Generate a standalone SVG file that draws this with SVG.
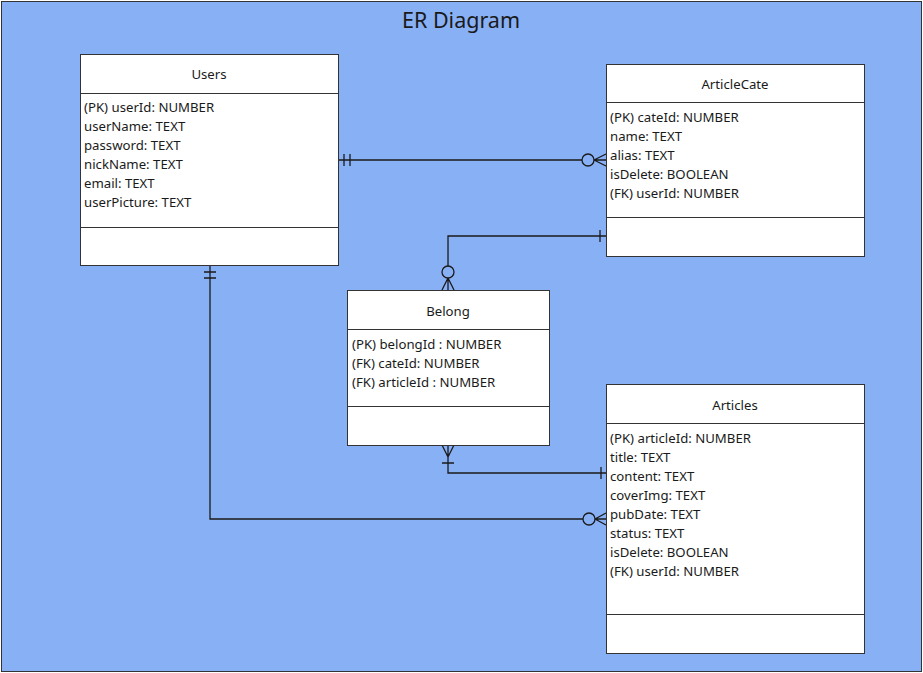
<svg xmlns="http://www.w3.org/2000/svg" width="923" height="673" viewBox="0 0 923 673">
<style>
.box{fill:#fff;stroke:#333;stroke-width:1}
.div{stroke:#333;stroke-width:1}
.t{font-family:"Noto Sans","Open Sans",sans-serif;font-size:13.2px;fill:#1a1a1a}
.h{text-anchor:middle}
.c{fill:none;stroke:#1a1a1a;stroke-width:1.3}
.ci{fill:none;stroke:#1a1a1a;stroke-width:1.3}
</style>
<rect x="1.5" y="1.5" width="920" height="670" fill="#88b0f5" stroke="#333" stroke-width="1"/>
<text x="461" y="28" font-family="'Noto Sans','Open Sans',sans-serif" font-size="21.5" fill="#1a1a1a" text-anchor="middle">ER Diagram</text>

<g id="connectors">
  <!-- Users - ArticleCate -->
  <path class="c" d="M338,160 H582 M344,154 V166 M350,154 V166 M594,160 L606,154 M594,160 L606,160 M594,160 L606,166"/>
  <circle class="ci" cx="588" cy="160" r="6"/>
  <!-- ArticleCate - Belong -->
  <path class="c" d="M606,236 H448 V266 M600,230 V242 M448,278 L442,290 M448,278 L448,290 M448,278 L454,290"/>
  <circle class="ci" cx="448" cy="272" r="6"/>
  <!-- Belong - Articles -->
  <path class="c" d="M448,445 V473 H606 M442,445 L448,457 M454,445 L448,457 M442,463 H454 M601,467 V479"/>
  <!-- Users - Articles -->
  <path class="c" d="M210,265 V519 H583 M204,272 H216 M204,278 H216 M595,519 L606,513 M595,519 L606,519 M595,519 L606,525"/>
  <circle class="ci" cx="589" cy="519" r="6"/>
</g>

<g id="users">
  <rect class="box" x="80.5" y="54.5" width="258" height="211"/>
  <line class="div" x1="80.5" y1="93.5" x2="338.5" y2="93.5"/>
  <line class="div" x1="80.5" y1="227.5" x2="338.5" y2="227.5"/>
  <text class="t h" x="209" y="79">Users</text>
  <text class="t" x="84" y="111.5">(PK) userId: NUMBER</text>
  <text class="t" x="84" y="130.5">userName: TEXT</text>
  <text class="t" x="84" y="149.5">password: TEXT</text>
  <text class="t" x="84" y="168.5">nickName: TEXT</text>
  <text class="t" x="84" y="187.5">email: TEXT</text>
  <text class="t" x="84" y="206.5">userPicture: TEXT</text>
</g>

<g id="articlecate">
  <rect class="box" x="606.5" y="64.5" width="258" height="192"/>
  <line class="div" x1="606.5" y1="102.5" x2="864.5" y2="102.5"/>
  <line class="div" x1="606.5" y1="217.5" x2="864.5" y2="217.5"/>
  <text class="t h" x="735" y="89">ArticleCate</text>
  <text class="t" x="610" y="121.5">(PK) cateId: NUMBER</text>
  <text class="t" x="610" y="140.5">name: TEXT</text>
  <text class="t" x="610" y="159.5">alias: TEXT</text>
  <text class="t" x="610" y="178.5">isDelete: BOOLEAN</text>
  <text class="t" x="610" y="197.5">(FK) userId: NUMBER</text>
</g>

<g id="belong">
  <rect class="box" x="347.5" y="290.5" width="202" height="155"/>
  <line class="div" x1="347.5" y1="329.5" x2="549.5" y2="329.5"/>
  <line class="div" x1="347.5" y1="406.5" x2="549.5" y2="406.5"/>
  <text class="t h" x="448" y="316">Belong</text>
  <text class="t" x="352" y="348.5">(PK) belongId : NUMBER</text>
  <text class="t" x="352" y="367.5">(FK) cateId: NUMBER</text>
  <text class="t" x="352" y="386.5">(FK) articleId : NUMBER</text>
</g>

<g id="articles">
  <rect class="box" x="606.5" y="384.5" width="258" height="269"/>
  <line class="div" x1="606.5" y1="423.5" x2="864.5" y2="423.5"/>
  <line class="div" x1="606.5" y1="614.5" x2="864.5" y2="614.5"/>
  <text class="t h" x="735" y="410">Articles</text>
  <text class="t" x="610" y="442.5">(PK) articleId: NUMBER</text>
  <text class="t" x="610" y="461.5">title: TEXT</text>
  <text class="t" x="610" y="480.5">content: TEXT</text>
  <text class="t" x="610" y="499.5">coverImg: TEXT</text>
  <text class="t" x="610" y="518.5">pubDate: TEXT</text>
  <text class="t" x="610" y="537.5">status: TEXT</text>
  <text class="t" x="610" y="556.5">isDelete: BOOLEAN</text>
  <text class="t" x="610" y="575.5">(FK) userId: NUMBER</text>
</g>
</svg>
